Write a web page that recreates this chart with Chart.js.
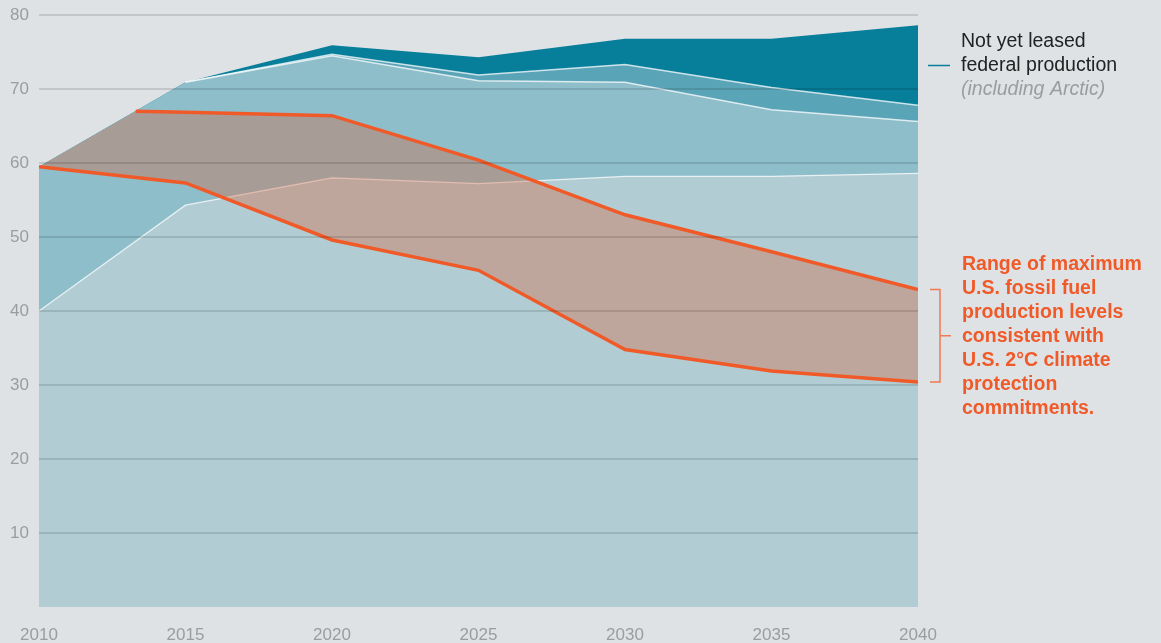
<!DOCTYPE html>
<html>
<head>
<meta charset="utf-8">
<script src="https://cdn.jsdelivr.net/npm/chart.js@4/dist/chart.umd.min.js"></script>
<style>
  html, body { margin: 0; padding: 0; background: #dee2e5; }
  canvas { display: block; }
</style>
</head>
<body>
<canvas id="chart" width="1161" height="643"></canvas>
<script>
const years = [2010, 2015, 2020, 2025, 2030, 2035, 2040];

// production layers (top edge of each area)
const currentProduction = [40, 54.3, 58.0, 57.2, 58.2, 58.2, 58.6];
const leasedProduction = [59.5, 70.9, 74.5, 71.1, 70.9, 67.2, 65.6];
const otherProduction = [59.5, 70.9, 74.7, 71.9, 73.3, 70.2, 67.8];
const notYetLeased = [59.5, 70.9, 75.9, 74.3, 76.8, 76.8, 78.6];

// 2°C range
const upperYears = [2010, 2013.3, 2015, 2020, 2025, 2030, 2035, 2040];
const upperRange = [59.5, 67.0, 66.85, 66.4, 60.4, 53.0, 48.0, 42.9];
const lowerRange = [59.5, 57.3, 49.6, 45.5, 34.8, 31.9, 30.4];

const yTicks = [10, 20, 30, 40, 50, 60, 70, 80];

const legendLines = ['Not yet leased', 'federal production', '(including Arctic)'];
const rangeLines = ['Range of maximum', 'U.S. fossil fuel', 'production levels',
  'consistent with', 'U.S. 2°C climate', 'protection', 'commitments.'];

const orange = '#f05a28';
const edge = 'rgba(255,255,255,0.75)';
const toPoints = (xs, ys) => ys.map((y, i) => ({ x: xs[i], y: y }));

const area = (data, color, order) => ({
  data: data, backgroundColor: color, borderWidth: 0, borderColor: color,
  pointRadius: 0, fill: 'origin', order: order
});
const line = (data, color, width, order) => ({
  data: data, borderColor: color, borderWidth: width,
  pointRadius: 0, fill: false, order: order
});

const annotations = {
  id: 'annotations',
  afterDraw(chart) {
    const ctx = chart.ctx;
    const y = chart.scales.y;
    const right = chart.chartArea.right;
    ctx.save();
    // legend for not yet leased
    ctx.strokeStyle = '#0a7e9a';
    ctx.lineWidth = 1.5;
    ctx.beginPath();
    ctx.moveTo(928, 65.5);
    ctx.lineTo(950, 65.5);
    ctx.stroke();
    ctx.textBaseline = 'middle';
    ctx.textAlign = 'left';
    ctx.font = '19.5px "Liberation Sans", Arial, sans-serif';
    ctx.fillStyle = '#222';
    ctx.fillText(legendLines[0], 961, 42);
    ctx.fillText(legendLines[1], 961, 66);
    ctx.font = 'italic 19.5px "Liberation Sans", Arial, sans-serif';
    ctx.fillStyle = '#9a9da0';
    ctx.fillText(legendLines[2], 961, 90);

    // bracket for range
    const top = y.getPixelForValue(upperRange[upperRange.length - 1]);
    const bottom = y.getPixelForValue(lowerRange[lowerRange.length - 1]);
    const mid = (top + bottom) / 2;
    ctx.strokeStyle = '#f07a52';
    ctx.lineWidth = 1.5;
    ctx.beginPath();
    ctx.moveTo(right + 12, top);
    ctx.lineTo(right + 22, top);
    ctx.lineTo(right + 22, bottom);
    ctx.lineTo(right + 12, bottom);
    ctx.moveTo(right + 22, mid);
    ctx.lineTo(right + 33, mid);
    ctx.stroke();

    ctx.font = 'bold 19.5px "Liberation Sans", Arial, sans-serif';
    ctx.fillStyle = orange;
    rangeLines.forEach((t, i) => ctx.fillText(t, 962, 265 + i * 24));
    ctx.restore();
  }
};

new Chart(document.getElementById('chart'), {
  type: 'line',
  data: {
    datasets: [
      line(toPoints(years, lowerRange), orange, 3.5, 1),
      line(toPoints(upperYears.slice(1), upperRange.slice(1)), orange, 3.5, 2),
      {
        data: toPoints(upperYears, upperRange),
        borderWidth: 0,
        pointRadius: 0,
        backgroundColor: 'rgba(217,96,59,0.36)',
        fill: { target: 0 },
        order: 3
      },
      Object.assign(area(toPoints(years, currentProduction), '#b1cdd3', 4),
        { borderColor: edge, borderWidth: 1.3 }),
      line(toPoints(years.slice(1), leasedProduction.slice(1)), edge, 1.5, 5),
      area(toPoints(years, leasedProduction), '#8ebeca', 6),
      line(toPoints(years.slice(1), otherProduction.slice(1)), edge, 1.5, 7),
      area(toPoints(years, otherProduction), '#5aa4b8', 8),
      area(toPoints(years, notYetLeased), '#077e9a', 9)
    ]
  },
  options: {
    responsive: false,
    animation: false,
    layout: { padding: { top: 15, right: 243, left: 0, bottom: 0 } },
    plugins: {
      legend: { display: false },
      tooltip: { enabled: false }
    },
    elements: { line: { tension: 0 } },
    scales: {
      x: {
        type: 'linear',
        min: 2010,
        max: 2040,
        grid: { display: false, drawTicks: false },
        border: { display: false },
        ticks: {
          stepSize: 5,
          padding: 18,
          color: '#9a9da0',
          font: { family: '"Liberation Sans", Arial, sans-serif', size: 17 },
          callback: v => String(v)
        },
        afterFit: s => { s.height = 36; }
      },
      y: {
        min: 0,
        max: 80,
        afterBuildTicks: s => { s.ticks = yTicks.map(v => ({ value: v })); },
        grid: {
          z: 1,
          color: 'rgba(0,0,0,0.12)',
          lineWidth: 2,
          drawTicks: false
        },
        border: { display: false },
        ticks: {
          padding: 10,
          color: '#9a9da0',
          font: { family: '"Liberation Sans", Arial, sans-serif', size: 17 }
        },
        afterFit: s => { s.width = 39; s.paddingTop = 0; s.paddingBottom = 0; }
      }
    }
  },
  plugins: [annotations]
});
</script>
</body>
</html>
